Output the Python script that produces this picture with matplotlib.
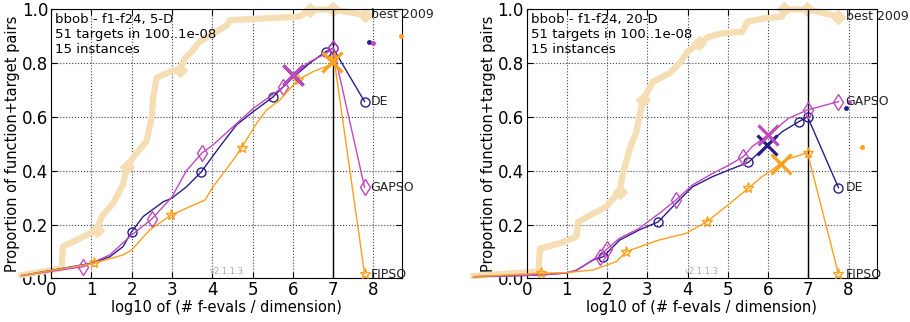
import matplotlib
matplotlib.use("Agg")
import matplotlib.pyplot as plt
import numpy as np

# ---------------- data: 5-D ----------------
best5_x = [-0.73, 0.26, 0.30, 0.97, 1.13, 1.26, 1.55, 1.79, 1.88, 2.12, 2.37, 2.50, 2.54, 2.62,
           2.95, 3.20, 3.32, 3.49, 3.69, 4.02, 4.36, 4.44, 6.17, 6.42, 7.00, 7.78]
best5_y = [0.012, 0.037, 0.118, 0.167, 0.180, 0.230, 0.280, 0.350, 0.415, 0.465, 0.510, 0.600, 0.675, 0.745,
           0.768, 0.775, 0.818, 0.843, 0.880, 0.910, 0.940, 0.960, 0.973, 0.998, 1.000, 0.979]
best5_mk = [4, 8, 15, 23, 24, 25]

de5_x = [-0.73, 1.00, 1.46, 1.79, 2.00, 2.29, 2.79, 2.99, 3.36, 3.72, 4.19, 4.60, 5.02, 5.50, 5.93, 6.42, 6.82, 7.00, 7.78]
de5_y = [0.010, 0.056, 0.080, 0.118, 0.173, 0.230, 0.285, 0.297, 0.340, 0.394, 0.490, 0.570, 0.620, 0.673, 0.737, 0.800, 0.843, 0.855, 0.657]
de5_mk = [4, 9, 13, 16, 17, 18]

ga5_x = [-0.73, 0.80, 1.00, 1.46, 2.00, 2.50, 2.99, 3.36, 3.74, 4.02, 4.52, 5.02, 5.47, 5.76, 6.00, 6.42, 6.83, 7.00, 7.78]
ga5_y = [0.010, 0.043, 0.056, 0.087, 0.161, 0.220, 0.300, 0.400, 0.465, 0.496, 0.564, 0.632, 0.680, 0.712, 0.760, 0.805, 0.836, 0.858, 0.338]
ga5_mk = [1, 5, 8, 13, 17, 18]

fi5_x = [-0.73, 1.07, 1.79, 2.00, 2.45, 2.98, 3.82, 4.02, 4.52, 4.73, 5.10, 5.35, 5.68, 6.12, 6.50, 6.92, 7.02, 7.78]
fi5_y = [0.010, 0.056, 0.087, 0.105, 0.180, 0.235, 0.291, 0.340, 0.440, 0.486, 0.576, 0.626, 0.663, 0.737, 0.768, 0.793, 0.818, 0.016]
fi5_mk = [1, 5, 9, 13, 16, 17]

cross5 = {"DE": (6.00, 0.755), "GAPSO": (6.00, 0.755), "FIPSO": (6.97, 0.805)}
dots5 = {"DE": (7.89, 0.880), "GAPSO": (7.98, 0.874), "FIPSO": (8.68, 0.900)}
labels5 = {"best 2009": 0.979, "DE": 0.657, "GAPSO": 0.338, "FIPSO": 0.016}

# ---------------- data: 20-D ----------------
best20_x = [-1.32, 0.29, 0.33, 0.82, 1.24, 1.28, 1.65, 1.98, 2.23, 2.31, 2.39, 2.60, 2.72, 2.89, 3.13,
            3.55, 3.83, 4.00, 4.29, 4.53, 4.86, 5.36, 5.48, 5.94, 6.35, 6.39, 6.97, 7.75]
best20_y = [0.009, 0.025, 0.110, 0.130, 0.155, 0.210, 0.240, 0.266, 0.310, 0.322, 0.390, 0.500, 0.540, 0.663, 0.730,
            0.762, 0.805, 0.843, 0.874, 0.898, 0.911, 0.917, 0.954, 0.967, 0.973, 1.000, 1.000, 0.973]
best20_mk = [9, 13, 18, 25, 26, 27]

de20_x = [-1.32, 0.33, 0.99, 1.24, 1.65, 1.90, 2.31, 2.80, 3.27, 3.71, 4.12, 4.62, 5.03, 5.51, 6.02, 6.35, 6.76, 6.98, 7.75]
de20_y = [0.006, 0.012, 0.020, 0.030, 0.068, 0.080, 0.142, 0.180, 0.210, 0.279, 0.340, 0.378, 0.403, 0.431, 0.502, 0.545, 0.582, 0.601, 0.337]
de20_mk = [5, 8, 13, 16, 17, 18]

ga20_x = [-1.32, 0.33, 0.99, 1.24, 1.65, 1.81, 2.00, 2.31, 2.80, 3.30, 3.71, 4.12, 4.62, 5.03, 5.38, 5.60, 6.10, 6.51, 6.98, 7.75]
ga20_y = [0.006, 0.012, 0.020, 0.030, 0.070, 0.080, 0.110, 0.149, 0.186, 0.242, 0.291, 0.347, 0.390, 0.421, 0.452, 0.489, 0.545, 0.595, 0.626, 0.657]
ga20_mk = [5, 6, 10, 14, 18, 19]

fi20_x = [-1.32, 0.35, 0.99, 1.65, 2.23, 2.47, 3.30, 3.96, 4.48, 4.95, 5.51, 5.85, 6.10, 6.43, 6.98, 7.75]
fi20_y = [0.006, 0.019, 0.021, 0.031, 0.062, 0.099, 0.143, 0.167, 0.211, 0.266, 0.335, 0.378, 0.403, 0.440, 0.467, 0.016]
fi20_mk = [1, 5, 8, 10, 14, 15]

cross20 = {"DE": (5.98, 0.496), "GAPSO": (6.00, 0.533), "FIPSO": (6.33, 0.424)}
dots20 = {"DE": (7.94, 0.632), "GAPSO": (8.02, 0.655), "FIPSO": (8.34, 0.487)}
labels20 = {"best 2009": 0.973, "GAPSO": 0.657, "DE": 0.337, "FIPSO": 0.016}

xticks = [0, 1, 2, 3, 4, 5, 6, 7, 8]
yticks = [0.0, 0.2, 0.4, 0.6, 0.8, 1.0]

C_BEST = "#f5deb3"
C_DE = "#2a1d8a"
C_GA = "#c048c0"
C_FI = "#ff9f1a"

fig = plt.figure(figsize=(9.10, 3.22), dpi=100)
ax1 = fig.add_axes([0.056, 0.1357, 0.3854, 0.8353])
ax2 = fig.add_axes([0.5788, 0.1357, 0.3846, 0.8353])

def draw(ax, best, algs, crosses, dots, labels, dim):
    bx, by, bmk = best
    ax.plot(bx, by, color=C_BEST, lw=4.5, marker="D", markevery=bmk, ms=7,
            mec=C_BEST, mfc=C_BEST, clip_on=False, zorder=2, solid_joinstyle="round")
    for name, (x, y, mk), col, m, ms in algs:
        ax.plot(x, y, color=col, lw=1.0, marker=m, markevery=mk, ms=ms,
                mfc="none", mec=col, mew=1.0, clip_on=False, zorder=4)
    for name, (cx, cy) in crosses.items():
        col = {"DE": C_DE, "GAPSO": C_GA, "FIPSO": C_FI}[name]
        ax.plot([cx], [cy], marker="x", ms=14, mew=2.3, color=col, zorder=5, clip_on=False)
    for name, (dx, dy) in dots.items():
        col = {"DE": C_DE, "GAPSO": C_GA, "FIPSO": C_FI}[name]
        ax.plot([dx], [dy], marker="o", ms=2.5, color=col, mec=col, zorder=5, clip_on=False)
    xl = 7.93
    for name, yv in labels.items():
        ax.text(xl, yv, name, fontsize=9, va="center", ha="left", color="#222222", zorder=6)
    ax.axvline(7, color="black", lw=1.0, zorder=3)
    ax.set_xlim(0, 8.7)
    ax.set_ylim(0, 1)
    ax.set_xticks(xticks)
    ax.set_yticks(yticks)
    ax.set_yticklabels(["%.1f" % v for v in yticks])
    ax.tick_params(labelsize=12, direction="in", top=True, right=True, length=4, pad=2)
    ax.grid(True, linestyle=":", color="#444444", lw=0.8)
    ax.set_axisbelow(True)
    ax.set_xlabel("log10 of (# f-evals / dimension)", fontsize=10.5, labelpad=1)
    ax.set_ylabel("Proportion of function+target pairs", fontsize=10.5, labelpad=1)
    ax.text(0.1, 0.963, "bbob - f1-f24, %s-D" % dim, fontsize=9.5, va="center", ha="left")
    ax.text(0.1, 0.907, "51 targets in 100..1e-08", fontsize=9.5, va="center", ha="left")
    ax.text(0.1, 0.851, "15 instances", fontsize=9.5, va="center", ha="left")
    ax.text(4.36, 0.025, "v2.1.1.3", fontsize=6, color="#aaaaaa", ha="center", va="center")

draw(ax1, (best5_x, best5_y, best5_mk),
     [("DE", (de5_x, de5_y, de5_mk), C_DE, "o", 6.5),
      ("GAPSO", (ga5_x, ga5_y, ga5_mk), C_GA, "d", 8.5),
      ("FIPSO", (fi5_x, fi5_y, fi5_mk), C_FI, "*", 8)],
     cross5, dots5, labels5, 5)
draw(ax2, (best20_x, best20_y, best20_mk),
     [("DE", (de20_x, de20_y, de20_mk), C_DE, "o", 6.5),
      ("GAPSO", (ga20_x, ga20_y, ga20_mk), C_GA, "d", 8.5),
      ("FIPSO", (fi20_x, fi20_y, fi20_mk), C_FI, "*", 8)],
     cross20, dots20, labels20, 20)

fig.savefig("out.png", dpi=100)
